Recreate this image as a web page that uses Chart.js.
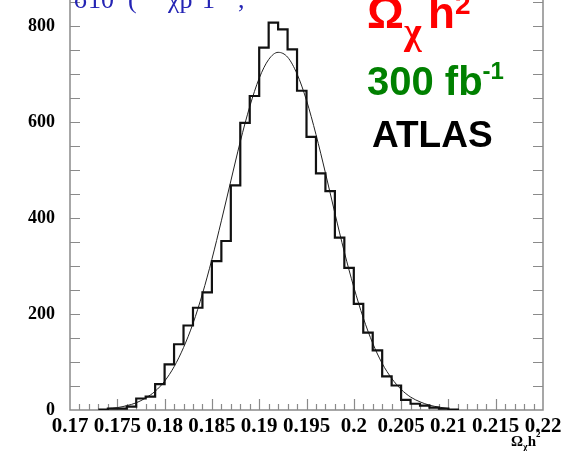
<!DOCTYPE html>
<html>
<head>
<meta charset="utf-8">
<script src="https://cdn.jsdelivr.net/npm/chart.js@4"></script>
<style>
  html, body { margin: 0; padding: 0; background: #fff; }
  #wrap { width: 570px; height: 451px; }
</style>
</head>
<body>
<div id="wrap"><canvas id="chart" width="570" height="451"></canvas></div>
<script>
// Histogram: bin edges (width 0.001) and entries per bin
const binEdges = [0.173, 0.174, 0.175, 0.176, 0.177, 0.178, 0.179, 0.180, 0.181, 0.182,
                  0.183, 0.184, 0.185, 0.186, 0.187, 0.188, 0.189, 0.190, 0.191, 0.192,
                  0.193, 0.194, 0.195, 0.196, 0.197, 0.198, 0.199, 0.200, 0.201, 0.202,
                  0.203, 0.204, 0.205, 0.206, 0.207, 0.208, 0.209, 0.210, 0.211];
const binCounts = [1, 3, 3, 7, 24, 28, 54, 95, 137, 176,
                   213, 245, 310, 352, 468, 598, 654, 755, 807, 793,
                   751, 665, 569, 493, 456, 359, 296, 221, 161, 124,
                   70, 51, 21, 13, 9, 5, 3, 1];

// Gaussian fit curve, sampled along the axis
const fitX = [0.174, 0.175, 0.176, 0.177, 0.178, 0.179, 0.180, 0.181, 0.182, 0.183,
              0.184, 0.185, 0.186, 0.187, 0.188, 0.189, 0.190, 0.191, 0.192, 0.193,
              0.194, 0.195, 0.196, 0.197, 0.198, 0.199, 0.200, 0.201, 0.202, 0.203,
              0.204, 0.205, 0.206, 0.207, 0.208, 0.209, 0.210];
const fitY = [3, 5, 9, 15, 25, 39, 60, 90, 130, 180,
              242, 314, 394, 477, 559, 632, 691, 730, 745, 735,
              700, 645, 574, 494, 410, 329, 256, 192, 139, 97,
              66, 43, 27, 17, 10, 6, 3];

const xTickValues = [0.17, 0.175, 0.18, 0.185, 0.19, 0.195, 0.2, 0.205, 0.21, 0.215, 0.22];
const xTickLabels = ['0.17', '0.175', '0.18', '0.185', '0.19', '0.195', '0.2', '0.205', '0.21', '0.215', '0.22'];
const yTickValues = [0, 200, 400, 600, 800];
const yTickLabels = ['0', '200', '400', '600', '800'];

// step outline: each bin edge carries its bin content, last edge drops to zero
const histPoints = binEdges.map((x, i) => ({ x: x, y: i < binCounts.length ? binCounts[i] : 0 }));
const fitPoints = fitX.map((x, i) => ({ x: x, y: fitY[i] }));

const axisColor = '#8a8a8a';
const serif = "'Liberation Serif', 'DejaVu Serif', serif";
const sans = "'Liberation Sans', Arial, sans-serif";

// ROOT-style frame: grey axes with ticks pointing inward
const frame = {
  id: 'frame',
  beforeDatasetsDraw(chart) {
    const { ctx, chartArea: a, scales: { x, y } } = chart;
    ctx.save();
    ctx.strokeStyle = axisColor;
    ctx.lineWidth = 1.5;
    ctx.beginPath();
    ctx.moveTo(a.left, a.top);
    ctx.lineTo(a.left, a.bottom);
    ctx.lineTo(a.right, a.bottom);
    ctx.lineTo(a.right, a.top);
    ctx.stroke();

    ctx.lineWidth = 1.2;
    ctx.beginPath();
    for (let v = 50; v <= 850; v += 50) {
      const py = Math.round(y.getPixelForValue(v)) + 0.5;
      ctx.moveTo(a.left, py); ctx.lineTo(a.left + 10, py);
      ctx.moveTo(a.right, py); ctx.lineTo(a.right - 10, py);
    }
    for (let k = 1; k < 50; k++) {
      const px = Math.round(x.getPixelForValue(0.17 + k * 0.001)) + 0.5;
      const len = k % 5 === 0 ? 11 : 6;
      ctx.moveTo(px, a.bottom); ctx.lineTo(px, a.bottom - len);
    }
    ctx.stroke();
    ctx.restore();
  }
};

// write text, then a raised or lowered piece right after it
function withScript(ctx, base, baseFont, x, y, script, scriptFont, dy) {
  ctx.font = baseFont;
  ctx.fillText(base, x, y);
  const w = ctx.measureText(base).width;
  ctx.font = scriptFont;
  ctx.fillText(script, x + w, y + dy);
  return x + w + ctx.measureText(script).width;
}

// text labels drawn on the canvas
const labels = {
  id: 'labels',
  afterDraw(chart) {
    const { ctx } = chart;
    ctx.save();
    ctx.textBaseline = 'alphabetic';
    ctx.textAlign = 'left';

    // blue line running off the top
    ctx.fillStyle = '#2424b4';
    ctx.font = '26px ' + serif;
    ctx.fillText('\u03c3', 74, 8);
    ctx.fillText('10', 88, 8);
    ctx.fillText('(', 128, 8);
    ctx.fillText('\u03c7p', 168, 8);
    ctx.fillText('1', 202, 8);
    ctx.fillText('\u2212', 212, 8);
    ctx.fillText(',', 238, 8);

    // red quantity
    ctx.fillStyle = '#ff0000';
    ctx.font = 'bold 46px ' + sans;
    ctx.fillText('\u03a9', 367, 28);
    ctx.font = 'bold 38px ' + serif;
    ctx.fillText('\u03c7', 404, 44);
    withScript(ctx, 'h', 'bold 44px ' + sans, 428, 28,
               '2', 'bold 28px ' + sans, -14);

    // luminosity
    ctx.fillStyle = '#008000';
    withScript(ctx, '300 fb', 'bold 40px ' + sans, 367, 95,
               '-1', 'bold 24px ' + sans, -16);

    ctx.fillStyle = '#000';
    ctx.font = 'bold 37px ' + sans;
    ctx.fillText('ATLAS', 372, 147);

    // x axis title
    const end = withScript(ctx, '\u03a9', 'bold 15px ' + serif, 511, 446,
                           '\u03c7', 'bold 10px ' + serif, 4);
    withScript(ctx, 'h', 'bold 15px ' + serif, end, 446,
               '2', 'bold 9px ' + serif, -9);
    ctx.restore();
  }
};

const chart = document.querySelector('#chart').getContext('2d');

new Chart(chart, {
  type: 'line',
  data: {
    datasets: [
      {
        label: 'histogram',
        data: histPoints,
        stepped: 'before',
        borderColor: '#111',
        borderWidth: 2.2,
        pointRadius: 0,
        fill: false
      },
      {
        label: 'fit',
        data: fitPoints,
        borderColor: '#222',
        borderWidth: 1,
        pointRadius: 0,
        cubicInterpolationMode: 'monotone',
        fill: false
      }
    ]
  },
  options: {
    responsive: false,
    animation: false,
    layout: { padding: { top: 0, right: 27, bottom: 0, left: 0 } },
    plugins: { legend: { display: false }, tooltip: { enabled: false } },
    scales: {
      x: {
        type: 'linear',
        min: 0.17,
        max: 0.22,
        grid: { display: false, drawTicks: false },
        border: { display: false },
        afterBuildTicks: s => { s.ticks = xTickValues.map(v => ({ value: v })); },
        afterFit: s => { s.height = 41; s.paddingLeft = 0; s.paddingRight = 0; },
        ticks: {
          autoSkip: false,
          maxRotation: 0,
          padding: 4,
          color: '#000',
          font: { family: serif, weight: 'bold', size: 21 },
          callback: (v, i) => xTickLabels[i]
        }
      },
      y: {
        min: 0,
        max: 854,
        grid: { display: false, drawTicks: false },
        border: { display: false },
        afterBuildTicks: s => { s.ticks = yTickValues.map(v => ({ value: v })); },
        afterFit: s => { s.width = 70; s.paddingTop = 0; s.paddingBottom = 0; },
        ticks: {
          autoSkip: false,
          padding: 15,
          color: '#000',
          font: { family: serif, weight: 'bold', size: 18 },
          callback: (v, i) => yTickLabels[i]
        }
      }
    }
  },
  plugins: [frame, labels]
});
</script>
</body>
</html>
